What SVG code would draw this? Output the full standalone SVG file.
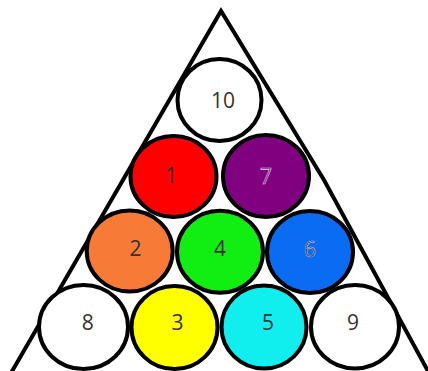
<svg xmlns="http://www.w3.org/2000/svg" width="428" height="371" viewBox="0 0 428 371">
<style>
.ball{stroke:#000;stroke-width:4}
.lbl{font-family:"Open Sans","DejaVu Sans",sans-serif;font-size:21px;fill:#333;text-anchor:middle}
.rack{fill:none;stroke:#000;stroke-width:4;stroke-linejoin:miter}
</style>
<rect width="428" height="371" fill="#fff"/>
<g id="rack">
<path class="rack" d="M 11 373 L 221 11 L 324 180 L 429 373"/>
</g>
<g id="ball10"><ellipse class="ball" cx="219.5" cy="100" rx="42" ry="41" fill="#fff"/><text class="lbl" x="223" y="108">10</text></g>
<g id="ball1"><ellipse class="ball" cx="173.5" cy="176.5" rx="43" ry="40.5" fill="#ff0000"/><text class="lbl" x="171" y="183">1</text></g>
<g id="ball7"><ellipse class="ball" cx="266" cy="176" rx="43" ry="41" fill="#800080"/><text class="lbl" x="266" y="184" style="fill:#6a226a;stroke:#e8cce8;stroke-width:0.6">7</text></g>
<g id="ball2"><ellipse class="ball" cx="129.7" cy="251" rx="43" ry="40.5" fill="#f77a36"/><text class="lbl" x="135.5" y="256">2</text></g>
<g id="ball4"><ellipse class="ball" cx="220" cy="251.7" rx="43" ry="41" fill="#11ee11"/><text class="lbl" x="220" y="256">4</text></g>
<g id="ball6"><ellipse class="ball" cx="310" cy="252" rx="43" ry="41" fill="#0a6cf2"/><text class="lbl" x="310" y="257" style="stroke:#c8d4e8;stroke-width:0.5">6</text></g>
<g id="ball8"><ellipse class="ball" cx="83.5" cy="327" rx="44.5" ry="42" fill="#fff"/><text class="lbl" x="87.7" y="330">8</text></g>
<g id="ball3"><ellipse class="ball" cx="174.5" cy="327.5" rx="43" ry="41.5" fill="#ffff00"/><text class="lbl" x="177.5" y="330">3</text></g>
<g id="ball5"><ellipse class="ball" cx="264" cy="327" rx="42.5" ry="41.5" fill="#11eeee"/><text class="lbl" x="268" y="330">5</text></g>
<g id="ball9"><ellipse class="ball" cx="355" cy="326.7" rx="44" ry="41.7" fill="#fff"/><text class="lbl" x="353" y="330">9</text></g>
</svg>
